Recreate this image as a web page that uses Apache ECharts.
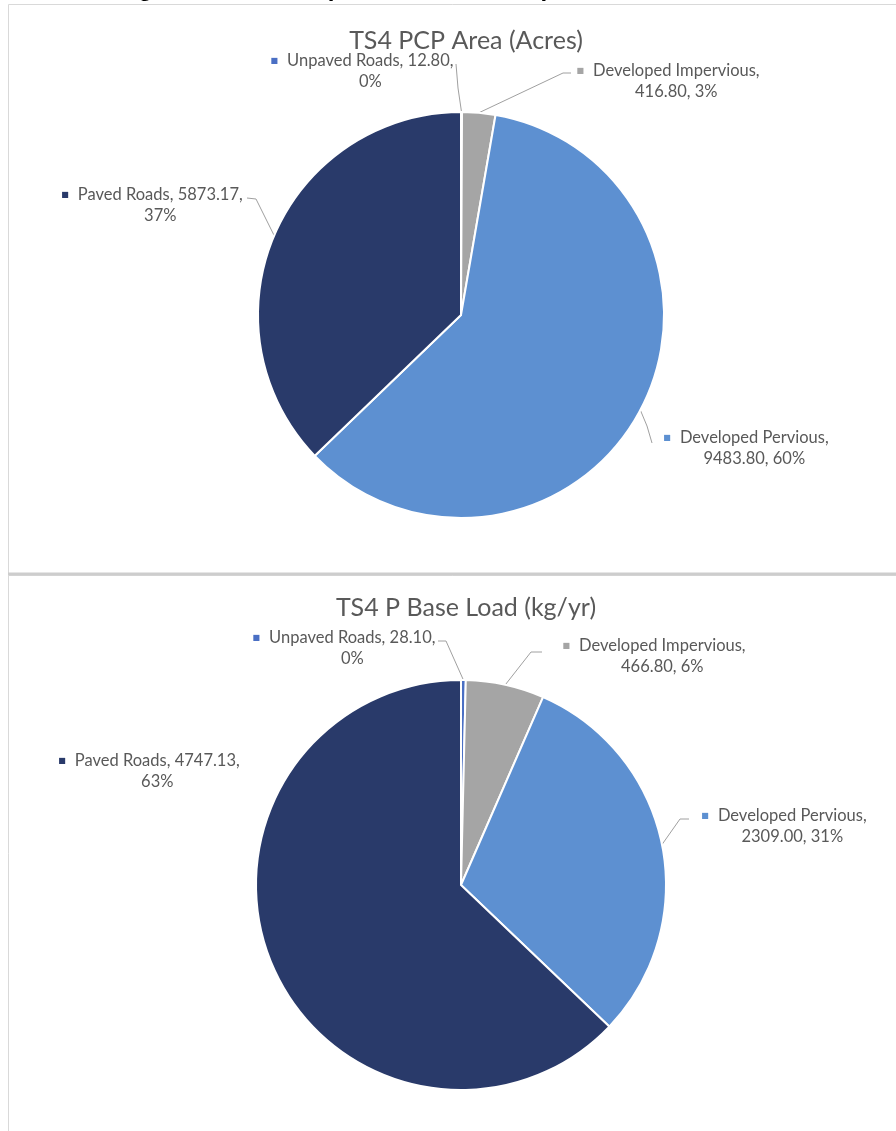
<!DOCTYPE html>
<html>
<head>
<meta charset="utf-8">
<script src="https://cdn.jsdelivr.net/npm/echarts@6/dist/echarts.min.js"></script>
<style>
  html, body { margin: 0; padding: 0; background: #ffffff; }
  #chart { width: 896px; height: 1131px; }
</style>
</head>
<body>
<div id="chart"></div>
<script>
// Land-use categories shared by both pies (clockwise from 12 o'clock)
const categories = ['Unpaved Roads', 'Developed Impervious', 'Developed Pervious', 'Paved Roads'];
// TS4 PCP area, acres
const areaValues = [12.80, 416.80, 9483.80, 5873.17];
// TS4 P base load, kg/yr
const loadValues = [28.10, 466.80, 2309.00, 4747.13];
const chartTitles = ['TS4 PCP Area (Acres)', 'TS4 P Base Load (kg/yr)'];
const captionText = 'Figure 9. TS4 Comparison of Total Impervious Area and P Load';

const sliceColors = ['#4a6fc4', '#a5a5a5', '#5d90d1', '#293a6a'];
// where each data label wraps onto a second line
const labelBreak = ['value', 'name', 'name', 'value'];

const FONT = 'Lato, "DejaVu Sans", sans-serif';
const TEXT_COLOR = '#595959';
const LINE_COLOR = '#a0a0a0';

// label block placement (centre x, top y) and leader-line bends, per pie / slice
const labelPlacement = [
  [
    { cx: 362, top: 50, bends: [[458, 88], [456, 64]] },
    { cx: 668, top: 60, bends: [[563, 73], [571, 73]] },
    { cx: 746, top: 427, bends: [[647, 426], [652, 443]] },
    { cx: 152, top: 184, bends: [[256, 199], [247, 198]] }
  ],
  [
    { cx: 344, top: 627, bends: [[446, 641], [438, 641]] },
    { cx: 654, top: 635, bends: [[531, 652], [542, 652]] },
    { cx: 784, top: 805, bends: [[680, 819], [689, 819]] },
    { cx: 149, top: 750, bends: null }
  ]
];

function richStyles() {
  const rich = {
    t: { fontFamily: FONT, fontSize: 16.5, color: TEXT_COLOR, lineHeight: 21 },
    s: { fontFamily: '"DejaVu Sans"', fontSize: 8, color: 'rgba(0,0,0,0)', padding: [0, 9, 0, 0], lineHeight: 21 }
  };
  sliceColors.forEach(function (c, i) {
    rich['m' + i] = { fontFamily: '"DejaVu Sans"', fontSize: 8, color: c, padding: [0, 9, 0, 0], lineHeight: 21 };
  });
  return rich;
}

function makeFormatter(values) {
  const total = values.reduce(function (a, b) { return a + b; }, 0);
  return function (p) {
    const i = p.dataIndex;
    const val = values[i].toFixed(2);
    const pct = Math.round(values[i] / total * 100) + '%';
    let first, second;
    if (labelBreak[i] === 'name') {
      first = categories[i] + ',';
      second = val + ', ' + pct;
    } else {
      first = categories[i] + ', ' + val + ',';
      second = pct;
    }
    return '{m' + i + '|\u25A0}{t|' + first + '}\n{s|\u25A0}{t|' + second + '}';
  };
}

function makeSeries(values, idx, center, radius) {
  return {
    type: 'pie',
    center: center,
    radius: radius,
    startAngle: 90,
    clockwise: true,
    avoidLabelOverlap: false,
    animation: false,
    itemStyle: { borderColor: '#ffffff', borderWidth: 2 },
    emphasis: { disabled: true },
    label: {
      show: true,
      position: 'outer',
      formatter: makeFormatter(values),
      rich: richStyles()
    },
    labelLine: {
      show: true,
      length: 10,
      length2: 10,
      lineStyle: { color: LINE_COLOR, width: 1 }
    },
    labelLayout: function (params) {
      const L = labelPlacement[idx][params.dataIndex];
      const out = { x: L.cx, y: L.top, align: 'center', verticalAlign: 'top' };
      if (L.bends && params.labelLinePoints) {
        out.labelLinePoints = [params.labelLinePoints[0]].concat(L.bends);
      }
      return out;
    },
    data: categories.map(function (name, i) {
      const item = { name: name, value: values[i], itemStyle: { color: sliceColors[i] } };
      if (!labelPlacement[idx][i].bends) item.labelLine = { show: false };
      return item;
    })
  };
}

const chart = echarts.init(document.getElementById('chart'), null, { renderer: 'canvas' });
chart.setOption({
  backgroundColor: '#ffffff',
  title: [
    { text: chartTitles[0], left: 461, top: 23, textAlign: 'center',
      textStyle: { fontFamily: FONT, fontSize: 25, fontWeight: 'normal', color: TEXT_COLOR } },
    { text: chartTitles[1], left: 461, top: 590, textAlign: 'center',
      textStyle: { fontFamily: FONT, fontSize: 25, fontWeight: 'normal', color: TEXT_COLOR } }
  ],
  graphic: [
    // chart panels
    { type: 'rect', z: -10, shape: { x: 8.5, y: 4.5, width: 900, height: 569 },
      style: { fill: '#ffffff', stroke: '#d9d9d9', lineWidth: 1 } },
    { type: 'rect', z: -10, shape: { x: 8.5, y: 575.5, width: 900, height: 600 },
      style: { fill: '#ffffff', stroke: '#d9d9d9', lineWidth: 1 } },
    { type: 'rect', z: -9, shape: { x: 8, y: 572.5, width: 900, height: 3 },
      style: { fill: '#cdcdcd' } },
    // page caption above the panels
    { type: 'text', z: 10, x: 117, y: 1,
      style: { text: captionText, font: 'bold 24px "Liberation Sans", Arial, sans-serif',
        fill: '#000000', verticalAlign: 'bottom', align: 'left' } }
  ],
  series: [
    makeSeries(areaValues, 0, [461, 315], 203),
    makeSeries(loadValues, 1, [461, 885], 205)
  ]
});
</script>
</body>
</html>
